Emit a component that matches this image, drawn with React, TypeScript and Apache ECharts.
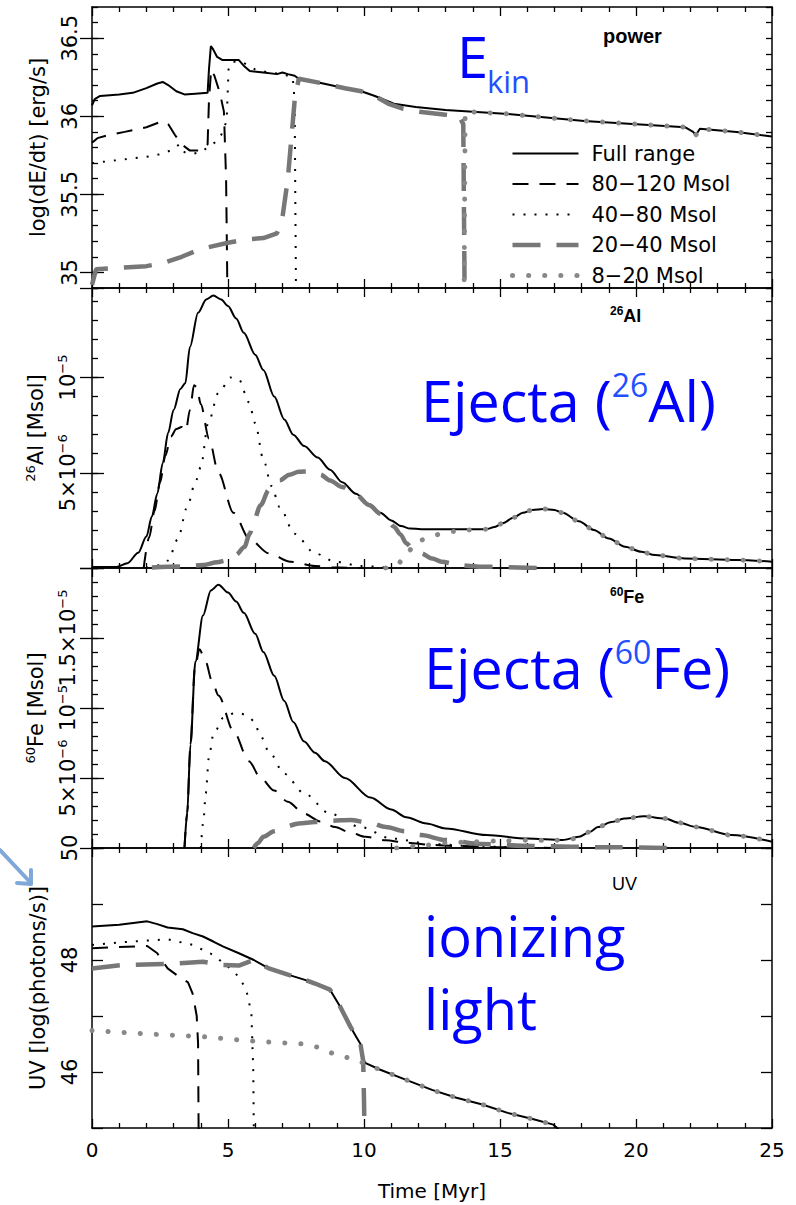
import React, { useEffect, useRef } from "react";
import * as echarts from "echarts";

// ---------- DATA ----------
const seriesNames = ["Full range", "80−120 Msol", "40−80 Msol", "20−40 Msol", "8−20 Msol"];

// Panel 1: log(dE/dt) [erg/s]
const powerFull = [[0,36.07],[0.1,36.11],[0.3,36.13],[1,36.14],[1.5,36.15],[2,36.18],[2.4,36.21],[2.6,36.22],[2.8,36.2],[3.1,36.16],[3.4,36.14],[3.8,36.145],[4.25,36.15],[4.3,36.3],[4.37,36.45],[4.45,36.43],[4.6,36.38],[4.8,36.36],[5.4,36.36],[5.6,36.32],[5.8,36.29],[6.3,36.28],[6.8,36.27],[7.0,36.28],[7.2,36.27],[7.45,36.26],[7.6,36.24],[8.5,36.21],[9.3,36.18],[9.9,36.16],[10.4,36.13],[11.1,36.08],[11.9,36.06],[13.0,36.04],[15.3,36.015],[18.1,35.97],[21.8,35.93],[22.1,35.9],[22.2,35.88],[22.35,35.92],[23.7,35.9],[25,35.87]];
const power80 = [[0,35.83],[0.2,35.86],[0.6,35.88],[1.2,35.9],[2,35.93],[2.6,35.97],[2.8,35.95],[3.05,35.88],[3.3,35.82],[3.6,35.78],[4.0,35.78],[4.25,35.82],[4.3,36.1],[4.38,36.3],[4.5,36.26],[4.7,36.15],[4.85,36.03],[4.93,35.6],[4.98,34.85]];
const power40 = [[0,35.7],[1,35.72],[2,35.74],[2.6,35.76],[3.0,35.79],[3.2,35.82],[3.4,35.77],[3.7,35.76],[4.0,35.77],[4.25,35.8],[4.5,35.83],[4.75,35.88],[4.95,35.97],[5.02,36.3],[5.15,36.35],[5.5,36.35],[6.0,36.3],[6.5,36.28],[7.0,36.27],[7.38,36.25],[7.45,36.1],[7.5,34.85]];
const power20 = [[0,34.92],[0.15,35.02],[1,35.03],[2,35.04],[2.6,35.06],[3.3,35.1],[4,35.15],[5,35.19],[5.6,35.21],[6.3,35.22],[6.8,35.25],[7.0,35.35],[7.2,35.6],[7.35,35.9],[7.45,36.1],[7.6,36.24],[8.5,36.21],[9.3,36.18],[9.9,36.16],[10.4,36.13],[10.9,36.08],[11.4,36.05],[12.0,36.03],[13.0,36.01],[13.5,36.0],[13.65,35.95],[13.7,34.85]];
const power8 = [[13.68,34.85],[13.72,36.03],[15.3,36.015],[18.1,35.97],[21.8,35.93],[22.1,35.9],[22.2,35.88],[22.35,35.92],[23.7,35.9],[25,35.87]];

// Panel 2: 26Al [Msol], values in units of 1e-6
const alFull = [[0,0.05],[0.9,0.05],[1.3,0.25],[1.7,0.8],[2.0,1.65],[2.2,2.7],[2.4,3.9],[2.6,5.5],[2.8,7.1],[3.0,8.3],[3.25,9.4],[3.43,9.7],[3.6,11.6],[3.9,13.4],[4.2,14.1],[4.46,14.3],[4.75,14.1],[5.0,13.75],[5.3,13.1],[5.58,12.35],[6.0,11.2],[6.3,10.4],[6.7,9.0],[7.07,7.8],[7.4,7.0],[7.8,6.4],[8.3,5.8],[8.75,5.16],[9.2,4.5],[9.7,3.9],[10.2,3.35],[10.6,2.9],[11.0,2.5],[11.36,2.2],[11.7,2.07],[12.1,2.04],[14.5,2.04],[14.8,2.15],[15.1,2.35],[15.5,2.65],[15.84,2.9],[16.2,3.05],[16.6,3.1],[17.0,3.05],[17.3,2.9],[17.9,2.45],[18.45,2.0],[19.0,1.55],[19.6,1.12],[20.2,0.85],[20.7,0.68],[21.8,0.5],[23.7,0.42],[25,0.33]];
const al80 = [[1.9,0],[2.1,1.6],[2.3,3.0],[2.5,4.5],[2.7,5.9],[2.9,6.9],[3.1,7.3],[3.3,7.4],[3.45,7.2],[3.6,8.3],[3.75,9.6],[3.85,9.5],[4.0,8.6],[4.3,6.8],[4.65,5.0],[5.2,2.9],[5.8,1.5],[6.5,0.77],[7.3,0.33],[8.2,0.1],[9.0,0.02],[10,0]];
const al40 = [[2.0,0],[2.5,0.15],[2.8,0.4],[3.15,1.5],[3.5,3.2],[3.8,4.5],[4.0,5.3],[4.27,7.6],[4.65,9.2],[5.1,10.0],[5.4,9.9],[5.77,8.7],[6.0,7.6],[6.3,5.7],[6.6,4.3],[6.9,3.2],[7.44,1.8],[8.2,0.77],[8.94,0.33],[9.9,0.1],[11,0]];
const al20 = [[2.2,0.03],[3.3,0.08],[4.1,0.16],[4.6,0.3],[5.0,0.42],[5.3,0.7],[5.6,1.1],[5.8,1.8],[5.95,2.5],[6.2,3.3],[6.5,4.1],[6.9,4.6],[7.26,4.9],[7.6,5.05],[8.0,5.07],[8.4,4.9],[8.75,4.6],[9.2,4.25],[9.7,3.85],[10.2,3.3],[10.6,2.85],[10.9,2.45],[11.1,2.17],[11.35,1.75],[11.55,1.3],[11.8,1.0],[12.1,0.77],[12.5,0.5],[12.85,0.33],[13.5,0.15],[14.3,0.07],[16.4,0]];
const al8 = [[10.8,0],[11.2,0.15],[11.55,0.68],[11.8,1.1],[12.1,1.47],[12.5,1.68],[12.85,1.8],[13.3,1.92],[13.8,2.0],[14.5,2.04],[14.8,2.15],[15.1,2.35],[15.5,2.65],[15.84,2.9],[16.2,3.05],[16.6,3.1],[17.0,3.05],[17.3,2.9],[17.9,2.45],[18.45,2.0],[19.0,1.55],[19.6,1.12],[20.2,0.85],[20.7,0.68],[21.8,0.5],[23.7,0.42],[25,0.33]];

// Panel 3: 60Fe [Msol], values in units of 1e-6
const feFull = [[3.4,0],[3.5,2.5],[3.62,7.4],[3.8,13.3],[4.08,16.6],[4.37,18.4],[4.65,18.8],[5.0,18.25],[5.3,17.6],[5.58,16.8],[6.0,15.3],[6.3,14.0],[6.7,12.3],[7.07,10.5],[7.4,9.0],[7.8,7.6],[8.2,6.8],[8.56,6.2],[9.3,5.0],[10.24,3.6],[11.0,2.75],[11.55,2.2],[12.3,1.75],[13.0,1.4],[14.5,0.92],[16.0,0.68],[17.3,0.57],[17.9,0.8],[18.3,1.15],[18.6,1.5],[19.1,1.85],[19.57,2.1],[20.3,2.26],[21.06,2.1],[21.6,1.8],[22.2,1.5],[23.5,0.92],[25,0.45]];
const fe80 = [[3.4,0],[3.5,2.5],[3.62,7.4],[3.78,12.8],[3.95,14.2],[4.18,13.3],[4.4,12.0],[4.65,10.9],[5.2,8.35],[5.77,6.2],[6.2,5.0],[6.7,4.1],[7.2,3.3],[7.8,2.45],[8.4,1.9],[8.94,1.5],[9.5,1.1],[10.06,0.8],[10.8,0.55],[11.55,0.38],[12.5,0.22],[13.4,0.14],[15.3,0.05],[17,0]];
const fe40 = [[4.0,0],[4.1,2],[4.18,3.9],[4.3,6.5],[4.46,8.1],[4.83,9.3],[5.2,9.6],[5.47,9.6],[5.75,9.4],[5.95,9.06],[6.2,8.0],[6.5,6.9],[7.07,5.3],[7.8,3.9],[8.75,2.45],[9.87,1.5],[11.0,0.68],[12.5,0.28],[14.3,0.1],[16,0.02]];
const fe20 = [[5.95,0],[6.1,0.35],[6.3,0.8],[6.7,1.2],[7.07,1.5],[7.6,1.75],[8.2,1.86],[8.8,1.95],[9.5,2.0],[10.2,1.8],[10.8,1.5],[11.5,1.2],[12.1,0.92],[13.0,0.57],[14.3,0.28],[16.2,0.14],[19,0.05],[21.4,0]];
const fe8 = [[11.2,0],[12.0,0.15],[13.0,0.35],[14.0,0.45],[15.0,0.5],[16.0,0.55],[17.0,0.55],[17.6,0.62],[17.9,0.8],[18.3,1.15],[18.6,1.5],[19.1,1.85],[19.57,2.1],[20.3,2.26],[21.06,2.1],[21.6,1.8],[22.2,1.5],[23.5,0.92],[25,0.45]];

// Panel 4: UV [log(photons/s)]
const uvFull = [[0,48.6],[1,48.63],[2.03,48.69],[2.4,48.64],[2.78,48.58],[3.34,48.55],[3.7,48.48],[4.08,48.42],[4.46,48.33],[4.83,48.24],[5.4,48.12],[5.95,48.0],[6.5,47.85],[7.26,47.73],[7.8,47.65],[8.2,47.58],[8.75,47.47],[9.12,47.17],[9.5,46.81],[9.75,46.6],[9.87,46.5],[10.0,46.2],[10.06,46.16],[10.6,46.04],[11.55,45.86],[12.5,45.68],[13.4,45.54],[14.35,45.42],[15.28,45.27],[16.2,45.16],[16.96,45.06],[17.15,44.98]];
const uv80 = [[0,48.21],[1,48.23],[2.03,48.25],[2.4,48.12],[2.78,47.85],[3.2,47.7],[3.53,47.6],[3.7,47.4],[3.85,47.0],[3.9,46.5],[3.92,44.9]];
const uv40 = [[0,48.27],[1.47,48.33],[2.78,48.37],[3.7,48.27],[4.46,48.09],[5.0,47.88],[5.4,47.7],[5.67,47.47],[5.86,47.05],[5.93,46.0],[5.95,44.9]];
const uv20 = [[0,47.85],[1.1,47.91],[2.78,47.93],[4.08,47.97],[4.83,47.91],[5.4,47.9],[5.95,48.0],[6.5,47.85],[7.26,47.73],[7.8,47.65],[8.2,47.58],[8.75,47.47],[9.12,47.17],[9.5,46.81],[9.75,46.6],[9.87,46.5],[9.97,46.2],[10.0,45.5],[10.02,44.9]];
const uv8 = [[0,46.74],[2.03,46.68],[4.08,46.63],[5.95,46.55],[7.8,46.5],[8.4,46.43],[8.94,46.31],[9.7,46.22],[10.02,46.15],[10.6,46.04],[11.55,45.86],[12.5,45.68],[13.4,45.54],[14.35,45.42],[15.28,45.27],[16.2,45.16],[16.96,45.06],[17.15,44.98]];

const panelData = [
  [powerFull, power80, power40, power20, power8],
  [alFull, al80, al40, al20, al8],
  [feFull, fe80, fe40, fe20, fe8],
  [uvFull, uv80, uv40, uv20, uv8],
];

const xTickLabels = ["0", "5", "10", "15", "20", "25"];

// ---------- STYLE ----------
const FONT = "DejaVu Sans";
const BLUE = "#0000ff";
const BLUE2 = "#1f4fff";
const lineStyles: any[] = [
  { color: "#000", width: 2, type: "solid" },
  { color: "#000", width: 2, type: [16, 11] },
  { color: "#000", width: 2, type: [2, 9] },
  { color: "#777", width: 4.5, type: [28, 16] },
  { color: "#888", width: 5, type: [0.1, 16], cap: "round" },
];

const gridTops = [7, 288, 568, 848];
const gridHeights = [281, 280, 280, 280];
const GL = 92;
const GW = 680;

const supLabel = (main: string, exp: string) => `{m|${main}}{s|${exp}}`;

const yCfg: any[] = [
  {
    min: 34.9, max: 36.7, minor: 0.1, minorLen: 6, major: { customValues: [35, 35.5, 36, 36.5] },
    label: (v: number) => { const k = Math.round(v * 10); return k % 5 === 0 ? String(k / 10) : ""; },
    name: "log(dE/dt) [erg/s]",
  },
  {
    min: 0, max: 14.7, minor: 1, minorLen: 6, major: { interval: 5 },
    label: (v: number) => { const k = Math.round(v); if (Math.abs(v - k) > 1e-6) return ""; if (k === 5) return supLabel("5×10", "−6"); if (k === 10) return supLabel("10", "−5"); return ""; },
    name: "{s|26}{m|Al [Msol]}",
  },
  {
    min: 0, max: 20, minor: 1, minorLen: 6, major: { interval: 5 },
    label: (v: number) => { const k = Math.round(v); if (Math.abs(v - k) > 1e-6) return ""; if (k === 5) return supLabel("5×10", "−6"); if (k === 10) return supLabel("10", "−5"); if (k === 15) return supLabel("1.5×10", "−5"); return ""; },
    name: "{s|60}{m|Fe [Msol]}",
  },
  {
    min: 45, max: 50, minor: 1, minorLen: 11, major: null,
    label: (v: number) => { const k = Math.round(v); return k === 46 || k === 48 || k === 50 ? String(k) : ""; },
    name: "UV [log(photons/s)]",
  },
];

const richTxt = {
  m: { fontFamily: FONT, fontSize: 21, color: "#000", lineHeight: 24 },
  s: { fontFamily: FONT, fontSize: 13, color: "#000", lineHeight: 24, verticalAlign: "top" },
};

function buildOption() {
  const grids: any[] = [];
  const xAxes: any[] = [];
  const yAxes: any[] = [];
  const series: any[] = [];
  for (let p = 0; p < 4; p++) {
    grids.push({ left: GL, width: GW, top: gridTops[p], height: gridHeights[p], containLabel: false });
    const xBase = {
      type: "value", gridIndex: p, min: 0, max: 25, interval: 5,
      splitLine: { show: false },
      axisLine: { show: true, onZero: false, lineStyle: { color: "#000", width: 1.5 } },
      axisTick: { show: true, inside: true, length: 9, lineStyle: { color: "#000", width: 1.3 } },
      minorTick: { show: true, splitNumber: 5, length: 5, lineStyle: { color: "#000", width: 1.3 } },
    };
    xAxes.push({
      ...xBase, position: "bottom",
      axisLabel: {
        show: p === 3, margin: 12, fontFamily: FONT, fontSize: 20, color: "#000",
        formatter: (v: number) => xTickLabels[Math.round(v / 5)] ?? "",
      },
      name: p === 3 ? "Time [Myr]" : "", nameLocation: "middle", nameGap: 53,
      nameTextStyle: { fontFamily: FONT, fontSize: 20, color: "#000" },
    });
    xAxes.push({ ...xBase, position: "top", axisLabel: { show: false } });

    const c = yCfg[p];
    const yBase = { type: "value", gridIndex: p, min: c.min, max: c.max, splitLine: { show: false } };
    const tickStyle = { color: "#000", width: 1.3 };
    yAxes.push({
      ...yBase, position: "left", interval: c.minor,
      axisLine: { show: true, onZero: false, lineStyle: { color: "#000", width: 1.5 } },
      axisTick: { show: true, inside: true, length: c.minorLen, lineStyle: tickStyle },
      axisLabel: {
        show: true, rotate: 90, margin: 12, fontFamily: FONT, fontSize: 21, color: "#000",
        formatter: c.label, rich: richTxt, showMinLabel: true, showMaxLabel: true, hideOverlap: false,
      },
      name: c.name, nameLocation: "middle", nameRotate: 90, nameGap: 44,
      nameTextStyle: { fontFamily: FONT, fontSize: 21, color: "#000", rich: richTxt },
    });
    yAxes.push({
      ...yBase, position: "left", ...(c.major && c.major.interval ? { interval: c.major.interval } : { interval: c.minor }),
      axisLine: { show: false },
      axisTick: {
        show: !!c.major, inside: true, length: 12, lineStyle: tickStyle,
        ...(c.major && c.major.customValues ? { customValues: c.major.customValues } : {}),
      },
      axisLabel: { show: false },
    });
    yAxes.push({
      ...yBase, position: "right", interval: c.minor,
      axisLine: { show: true, onZero: false, lineStyle: { color: "#000", width: 1.5 } },
      axisTick: { show: true, inside: true, length: c.minorLen, lineStyle: tickStyle },
      axisLabel: { show: false },
    });
    yAxes.push({
      ...yBase, position: "right", ...(c.major && c.major.interval ? { interval: c.major.interval } : { interval: c.minor }),
      axisLine: { show: false },
      axisTick: {
        show: !!c.major, inside: true, length: 12, lineStyle: tickStyle,
        ...(c.major && c.major.customValues ? { customValues: c.major.customValues } : {}),
      },
      axisLabel: { show: false },
    });

    for (let k = 0; k < 5; k++) {
      series.push({
        type: "line", name: seriesNames[k], xAxisIndex: p * 2, yAxisIndex: p * 4,
        data: panelData[p][k], symbol: "none", showSymbol: false, silent: true,
        smooth: p === 1 || p === 2 ? 0.3 : false, smoothMonotone: "x",
        lineStyle: lineStyles[k], itemStyle: { color: lineStyles[k].color }, clip: true,
      });
    }
  }

  const supRich = (size: number, supSize: number, fill: string, supFill: string, lh: number, family: string, weight: string) => ({
    m: { fontFamily: family, fontWeight: weight, fontSize: size, fill, lineHeight: lh },
    s: { fontFamily: family, fontWeight: weight, fontSize: supSize, fill: supFill, lineHeight: lh, verticalAlign: "top" },
  });

  const graphic: any[] = [
    { type: "text", x: 603, y: 36, style: { text: "power", fontFamily: "Liberation Sans", fontWeight: "bold", fontSize: 20, fill: "#000", verticalAlign: "middle" } },
    { type: "text", x: 610, y: 316, style: { text: "{s|26}{m|Al}", verticalAlign: "middle", rich: supRich(18, 12, "#000", "#000", 22, "Liberation Sans", "bold") } },
    { type: "text", x: 610, y: 597, style: { text: "{s|60}{m|Fe}", verticalAlign: "middle", rich: supRich(18, 12, "#000", "#000", 22, "Liberation Sans", "bold") } },
    { type: "text", x: 612, y: 884, style: { text: "UV", fontFamily: "Liberation Sans", fontSize: 18, lineHeight: 18, fill: "#000", verticalAlign: "middle" } },
    // blue annotations
    { type: "text", x: 457, y: 56, style: { text: "E", fontFamily: "Open Sans", fontSize: 56, fill: BLUE, verticalAlign: "middle" } },
    { type: "text", x: 487, y: 81, style: { text: "kin", fontFamily: "Open Sans", fontSize: 31, fill: BLUE2, verticalAlign: "middle" } },
    { type: "text", x: 421, y: 400, style: { text: "{m|Ejecta (}{s|26}{m|Al)}", verticalAlign: "middle", rich: supRich(57.5, 32, BLUE, BLUE2, 64, "Open Sans", "normal") } },
    { type: "text", x: 424, y: 667, style: { text: "{m|Ejecta (}{s|60}{m|Fe)}", verticalAlign: "middle", rich: supRich(57.5, 32, BLUE, BLUE2, 64, "Open Sans", "normal") } },
    { type: "text", x: 424, y: 935, style: { text: "ionizing", fontFamily: "Open Sans", fontSize: 56, lineHeight: 48, fill: BLUE, verticalAlign: "middle" } },
    { type: "text", x: 424, y: 1008, style: { text: "light", fontFamily: "Open Sans", fontSize: 56, lineHeight: 48, fill: BLUE, verticalAlign: "middle" } },
    // light blue arrow at left
    { type: "line", shape: { x1: 0, y1: 850, x2: 30, y2: 882 }, style: { stroke: "#7fa8d8", lineWidth: 4, lineCap: "round" } },
    { type: "polyline", shape: { points: [[17, 883], [31, 884], [31, 870]] }, style: { stroke: "#7fa8d8", lineWidth: 4, fill: null, lineCap: "round", lineJoin: "round" } },
  ];

  return {
    animation: false,
    backgroundColor: "#fff",
    grid: grids,
    xAxis: xAxes,
    yAxis: yAxes,
    series,
    legend: {
      data: seriesNames.map((n, k) => ({ name: n, lineStyle: { width: lineStyles[k].width } })),
      orient: "vertical", left: 505, top: 138,
      itemWidth: 66, itemHeight: 12, itemGap: 9.5, selectedMode: false,
      itemStyle: { opacity: 0, borderWidth: 0 },
      textStyle: { fontFamily: FONT, fontSize: 21, color: "#000", padding: [0, 0, 0, 8] },
    },
    graphic,
  };
}

export default function App() {
  const ref = useRef<HTMLDivElement>(null);
  useEffect(() => {
    if (!ref.current) return;
    const chart = echarts.init(ref.current, undefined, { renderer: "svg" });
    chart.setOption(buildOption() as any);
    return () => chart.dispose();
  }, []);
  return (
    <div
      ref={ref}
      style={{ position: "fixed", left: 0, top: 0, width: 796, height: 1205, background: "#fff" }}
    />
  );
}
